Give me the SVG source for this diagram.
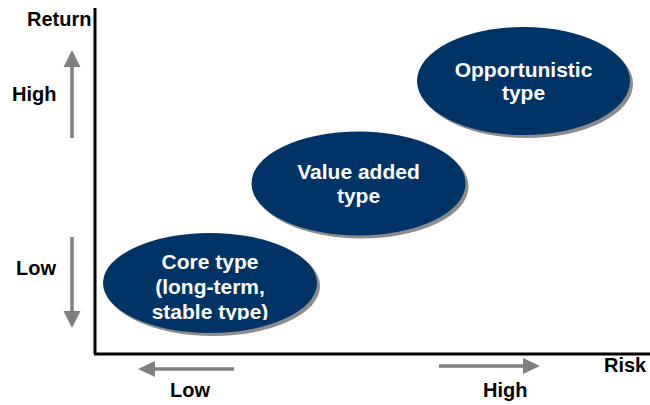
<svg xmlns="http://www.w3.org/2000/svg" width="650" height="405" viewBox="0 0 650 405">
  <defs>
    <style>
      .lbl { font-family: "Liberation Sans", Arial, sans-serif; font-weight: bold; font-size: 20px; fill: #000; }
      .in { font-family: "Liberation Sans", Arial, sans-serif; font-weight: bold; font-size: 21px; fill: #fff; text-anchor: middle; }
      .bubble { fill: #003366; }
      .shadow { fill: #8c8c8c; }
      .axis { stroke: #000; stroke-width: 3; fill: none; }
      .hint { stroke: #808080; stroke-width: 3.5; fill: none; }
      .head { fill: #808080; }
    </style>
    <!-- the core text box cuts off the last line's descenders -->
    <clipPath id="coreClip">
      <rect x="100" y="230" width="230" height="90"/>
    </clipPath>
  </defs>
  <rect width="650" height="405" fill="#fff"/>

  <!-- axes -->
  <g id="axes">
    <line class="axis" x1="95" y1="8" x2="95" y2="354"/>
    <line class="axis" x1="94" y1="354" x2="650" y2="354"/>
  </g>

  <!-- direction arrows beside the axes -->
  <g id="connectors">
    <line class="hint" x1="72" y1="138" x2="72" y2="64"/>
    <polygon class="head" points="72,50 63.5,67 80.5,67"/>
    <line class="hint" x1="72" y1="237" x2="72" y2="314"/>
    <polygon class="head" points="72,328 63.5,311 80.5,311"/>
    <line class="hint" x1="234" y1="369" x2="153" y2="369"/>
    <polygon class="head" points="138,369 155,361 155,377"/>
    <line class="hint" x1="439" y1="366" x2="526" y2="366"/>
    <polygon class="head" points="540,366 523,358 523,374"/>
  </g>

  <!-- axis labels -->
  <g id="labels">
    <text class="lbl" x="27" y="26">Return</text>
    <text class="lbl" x="12" y="101">High</text>
    <text class="lbl" x="16" y="275">Low</text>
    <text class="lbl" x="604" y="372">Risk</text>
    <text class="lbl" x="170" y="397">Low</text>
    <text class="lbl" x="483" y="397">High</text>
  </g>

  <g id="core">
    <ellipse class="shadow" cx="213" cy="286" rx="107" ry="50"/>
    <ellipse class="bubble" cx="210" cy="283" rx="107" ry="50"/>
    <g clip-path="url(#coreClip)">
      <text class="in" x="210" y="269">Core type</text>
      <text class="in" x="210" y="294">(long-term,</text>
      <text class="in" x="210" y="319">stable type)</text>
    </g>
  </g>

  <g id="value-added">
    <ellipse class="shadow" cx="361.5" cy="186.5" rx="107" ry="52"/>
    <ellipse class="bubble" cx="358.5" cy="183.5" rx="107" ry="52"/>
    <text class="in" x="358.5" y="179">Value added</text>
    <text class="in" x="358.5" y="203">type</text>
  </g>

  <g id="opportunistic">
    <ellipse class="shadow" cx="526.5" cy="84" rx="106.5" ry="54"/>
    <ellipse class="bubble" cx="523.5" cy="81" rx="106.5" ry="54"/>
    <text class="in" x="523.5" y="77">Opportunistic</text>
    <text class="in" x="523.5" y="100">type</text>
  </g>
</svg>
